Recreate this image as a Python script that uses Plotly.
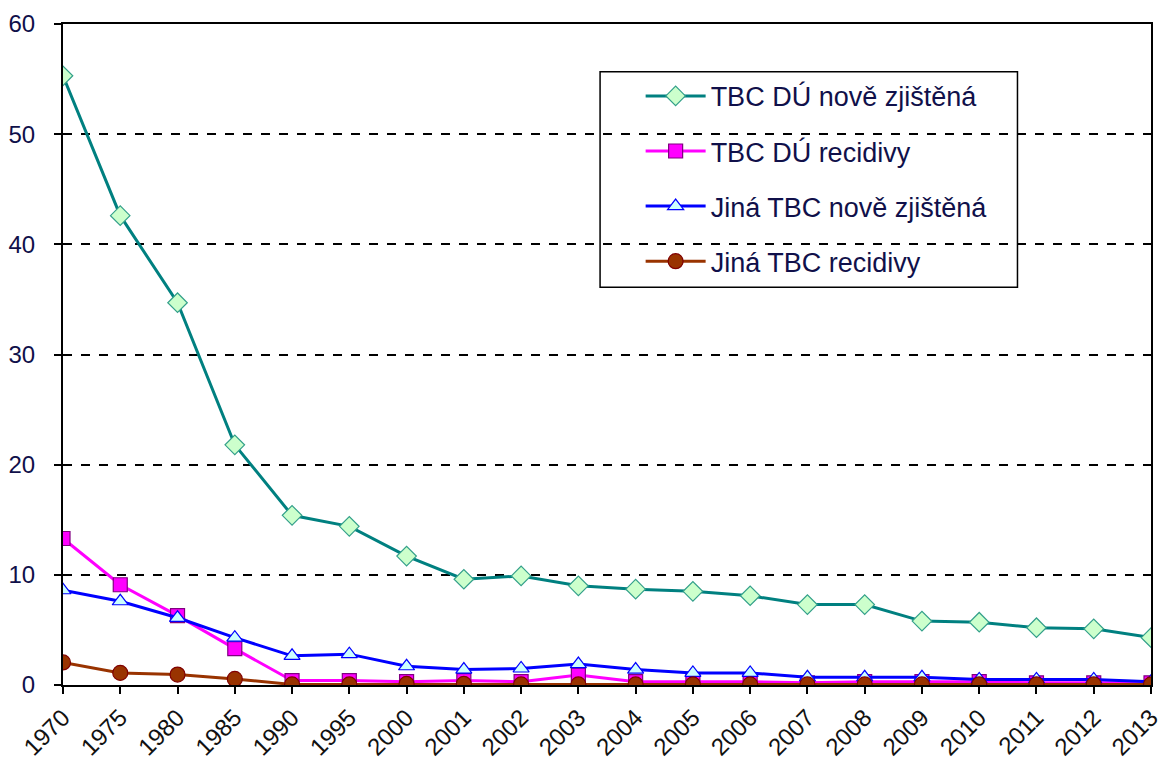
import plotly.graph_objects as go

years = ["1970", "1975", "1980", "1985", "1990", "1995", "2000", "2001", "2002", "2003",
         "2004", "2005", "2006", "2007", "2008", "2009", "2010", "2011", "2012", "2013"]

tbc_du_nove = [55.3, 42.6, 34.7, 21.8, 15.4, 14.4, 11.7, 9.6, 9.9, 9.0,
               8.7, 8.5, 8.1, 7.3, 7.3, 5.8, 5.7, 5.2, 5.1, 4.3]
tbc_du_recid = [13.3, 9.1, 6.3, 3.3, 0.4, 0.4, 0.3, 0.4, 0.3, 0.9,
                0.3, 0.3, 0.3, 0.2, 0.3, 0.3, 0.3, 0.2, 0.2, 0.2]
jina_nove = [8.6, 7.6, 6.1, 4.3, 2.65, 2.8, 1.7, 1.4, 1.5, 1.9,
             1.4, 1.1, 1.1, 0.7, 0.7, 0.7, 0.5, 0.5, 0.5, 0.3]
jina_recid = [2.05, 1.1, 0.95, 0.55, 0.05, 0.05, 0.1, 0.1, 0.05, 0.05,
              0.05, 0.05, 0.05, 0.05, 0.05, 0.05, 0.05, 0.05, 0.05, 0.05]

series = [
    ("TBC DÚ nově zjištěná", tbc_du_nove, "#008080", "diamond", "#ccffcc", "#33a08a", 15),
    ("TBC DÚ recidivy", tbc_du_recid, "#ff00ff", "square", "#ff00ff", "#800080", 14),
    ("Jiná TBC nově zjištěná", jina_nove, "#0000ff", "triangle-up", "#ccffff", "#0000ff", 14),
    ("Jiná TBC recidivy", jina_recid, "#993300", "circle", "#993300", "#800000", 15),
]

fig = go.Figure()
for i, (name, vals, lc, sym, fill, edge, size) in enumerate(series):
    fig.add_trace(go.Scatter(
        x=years, y=vals, name=name, mode="lines+markers",
        legendgroup=f"g{i}",
        line=dict(color=lc, width=3),
        marker=dict(symbol=sym, size=size, color=fill, line=dict(color=edge, width=1.2)),
    ))

# plot area spans 63..1163 px horizontally, 24..687 px vertically
def px_x(p):
    return (p - 63) / 1100

def px_y(p):
    return (687 - p) / 663

# legend frame
fig.add_shape(type="rect", xref="paper", yref="paper",
              x0=px_x(606), x1=px_x(1028), y0=px_y(288), y1=px_y(72),
              line=dict(color="#000", width=1.5), fillcolor="white", layer="below")

fig.update_layout(
    width=1165, height=763,
    margin=dict(l=63, r=2, t=24, b=76),
    plot_bgcolor="rgba(0,0,0,0)", paper_bgcolor="white",
    font=dict(family="Arial, Liberation Sans, sans-serif", size=24, color="#000"),
    showlegend=True,
    legend=dict(
        x=px_x(647), y=px_y(72), xanchor="left", yanchor="top",
        borderwidth=0, bgcolor="rgba(0,0,0,0)",
        font=dict(size=27, color="#10104a"), tracegroupgap=17,
        itemwidth=60,
    ),
)
fig.update_xaxes(
    type="category", range=[0, len(years) - 1],
    showline=True, linecolor="#000", linewidth=2, mirror=True,
    ticks="outside", ticklen=7, tickcolor="#000", tickwidth=1.5,
    tickangle=-45, showgrid=False, tickfont=dict(size=24, color="#111"),
)
fig.update_yaxes(
    range=[0, 60], dtick=10,
    showline=True, linecolor="#000", linewidth=2, mirror=True,
    ticks="outside", ticklen=7, tickcolor="#000", tickwidth=1.5,
    ticklabelstandoff=14,
    showgrid=True, gridcolor="#000", griddash="dash", gridwidth=1.5,
    zeroline=False, tickfont=dict(size=24, color="#10104a"),
)

fig.write_html("out.html")
